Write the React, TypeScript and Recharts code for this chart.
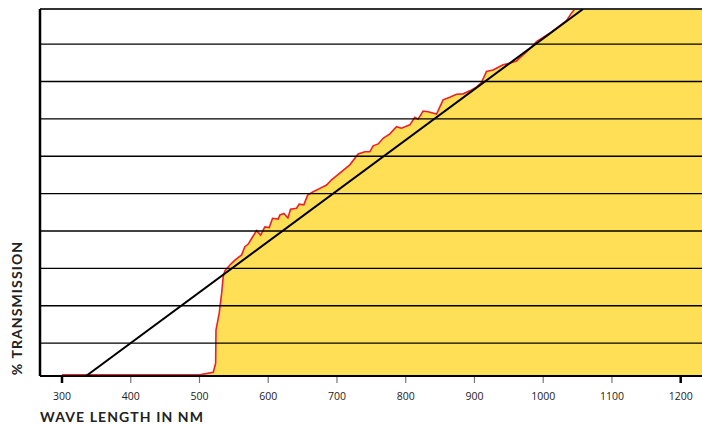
import { ComposedChart, Area, Line, XAxis, YAxis, ReferenceLine } from 'recharts'

// transmission curve (nm, %)
const WAVELENGTHS = [
  300, 500, 520, 523.5, 524, 528.7, 532.2, 534.5, 537, 544.3, 551.5, 561.3, 566, 570.9, 575.8, 583.1,
  588.9, 595.1, 601.4, 606.3, 614.5, 617, 622.8, 628.6, 632.5, 641.2, 645, 651.8, 657.3, 665.4, 675.1,
  684.9, 692.1, 718.7, 730.8, 740.5, 747.8, 752.6, 759.9, 767.1, 776.9, 786.6, 793.9, 806, 813.2, 818,
  825.3, 832.6, 844.8, 854.4, 864.1, 873.9, 883.5, 893.2, 902.9, 910.2, 917.5, 927.1, 941.6, 951.3,
  961.1, 968.4, 980.4, 990.2, 1009.5, 1033.8, 1041.1, 1045.9, 1231,
]
const TRANSMISSION = [
  1.5, 1.5, 2.2, 4.6, 13.5, 18, 23.3, 27.8, 29.4, 30.9, 32.2, 33.6, 35.8, 36.5, 38, 40.1,
  38.9, 41.1, 40.9, 43.4, 43.2, 44.3, 44.7, 43.5, 45.8, 46.1, 47.2, 47, 49.6, 50.5, 51.4,
  52.3, 53.7, 57.7, 60.6, 61.2, 61.2, 62.8, 63.3, 64.8, 66, 67.9, 67.5, 68.4, 70.4, 69.9,
  72.1, 71.9, 71.3, 75.1, 75.8, 76.6, 76.7, 77.5, 78.5, 79.7, 82.7, 83.1, 84.5, 84.9,
  85.5, 86.7, 88.7, 90.7, 92.9, 96.3, 98.3, 99.4, 99.4,
]

// straight reference line
const REF_WAVELENGTHS = [335, 1058]
const REF_VALUES = [1.2, 99.4]

const X_TICKS = [300, 400, 500, 600, 700, 800, 900, 1000, 1100, 1200]
const GRID_LEVELS = [10, 20, 30, 40, 50, 60, 70, 80, 90]

const curveData = WAVELENGTHS.map((nm, i) => ({ nm, t: TRANSMISSION[i] }))
const refData = REF_WAVELENGTHS.map((nm, i) => ({ nm, r: REF_VALUES[i] }))

const TitleFont = "Lato, 'Open Sans', sans-serif"

function Tick(props: any) {
  const { x, y, payload } = props
  const strong = payload.value === 300 || payload.value === 1200
  return (
    <g>
      <line
        x1={x}
        x2={x}
        y1={y - 7}
        y2={y - 1}
        stroke={strong ? '#000' : '#777'}
        strokeWidth={strong ? 2.5 : 1.2}
      />
      <text
        x={x}
        y={y + 16}
        textAnchor="middle"
        fontSize={10.5}
        fontFamily="'Open Sans', sans-serif"
        fill="#222"
      >
        {payload.value}
      </text>
    </g>
  )
}

export default function App() {
  return (
    <div style={{ position: 'absolute', left: 0, top: 0, width: 702, height: 425, background: '#fff' }}>
      <ComposedChart
        width={702}
        height={425}
        data={curveData}
        margin={{ top: 9, right: 0, left: 40, bottom: 19 }}
      >
        <XAxis
          dataKey="nm"
          type="number"
          domain={[268, 1231]}
          ticks={X_TICKS}
          allowDataOverflow
          axisLine={{ stroke: '#000', strokeWidth: 2 }}
          tickLine={false}
          tick={<Tick />}
          height={30}
        />
        <YAxis hide type="number" domain={[1.2, 99.4]} allowDataOverflow />
        <Area
          type="linear"
          dataKey="t"
          stroke="#ec2127"
          strokeWidth={1.6}
          fill="#ffdf55"
          fillOpacity={1}
          isAnimationActive={false}
          dot={false}
          activeDot={false}
        />
        {GRID_LEVELS.map(v => (
          <ReferenceLine key={v} y={v} stroke="#000" strokeWidth={1.3} />
        ))}
        <ReferenceLine y={99.4} stroke="#333" strokeWidth={2} />
        <ReferenceLine x={268} stroke="#000" strokeWidth={2.5} />
        <Line
          data={refData}
          dataKey="r"
          type="linear"
          stroke="#000"
          strokeWidth={2}
          dot={false}
          activeDot={false}
          isAnimationActive={false}
        />
      </ComposedChart>
      <div
        style={{
          position: 'absolute',
          left: 40,
          top: 408,
          fontFamily: TitleFont,
          fontWeight: 700,
          fontSize: 14,
          letterSpacing: 1.1,
          color: '#222',
          whiteSpace: 'nowrap',
        }}
      >
        WAVE LENGTH IN NM
      </div>
      <div
        style={{
          position: 'absolute',
          left: 16,
          top: 308,
          transform: 'translate(-50%, -50%) rotate(-90deg)',
          fontFamily: TitleFont,
          fontWeight: 700,
          fontSize: 14,
          letterSpacing: 1.1,
          color: '#222',
          whiteSpace: 'nowrap',
        }}
      >
        % TRANSMISSION
      </div>
    </div>
  )
}
